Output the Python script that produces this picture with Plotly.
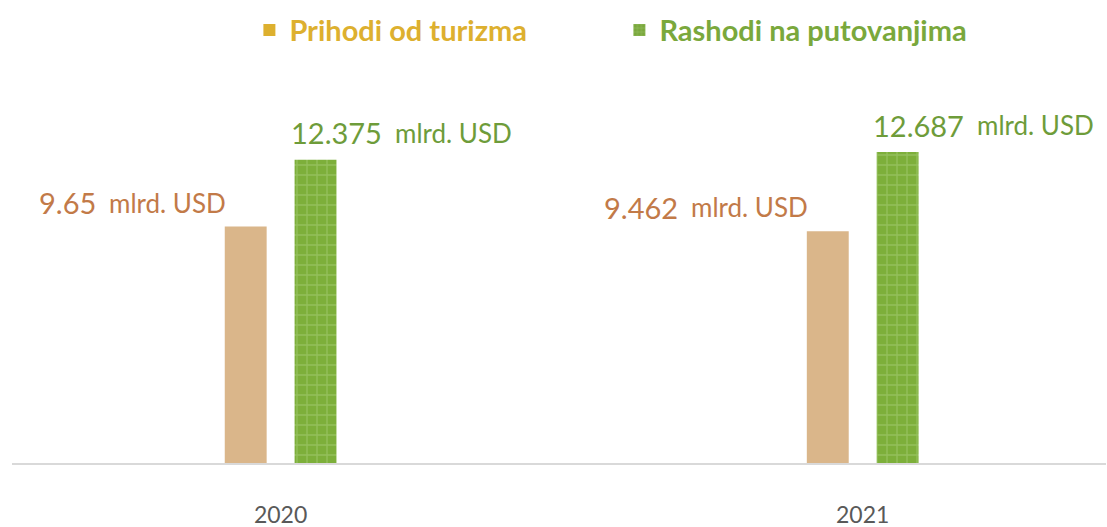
import plotly.graph_objects as go

years = ["2020", "2021"]
prihodi = [9.65, 9.462]
rashodi = [12.375, 12.687]
unit = "mlrd. USD"
name_prihodi = "Prihodi od turizma"
name_rashodi = "Rashodi na putovanjima"

C_PRI_BAR = "#DAB68A"
C_PRI_LEG = "#DDB02F"
C_PRI_TXT = "#C27A48"
C_RAS_BAR = "#7DAF3A"
C_RAS_PAT = "#A9CF7C"
C_RAS_TXT = "#6E9C3A"
C_RAS_LEG = "#7AA83C"
FONT = "Lato"
NUM_SIZE = 29
UNIT_SIZE = 26

fig = go.Figure()

# real bars
fig.add_trace(go.Bar(x=years, y=prihodi, marker=dict(color=C_PRI_BAR, line=dict(width=0)),
                     offsetgroup="a", showlegend=False, hoverinfo="skip"))
fig.add_trace(go.Bar(x=years, y=rashodi,
                     marker=dict(color=C_RAS_BAR, line=dict(width=0),
                                 pattern=dict(shape="+", fgcolor=C_RAS_PAT, size=10, solidity=0.25)),
                     offsetgroup="b", showlegend=False, hoverinfo="skip"))

# legend-only entries
fig.add_trace(go.Bar(x=[None], y=[None], marker=dict(color=C_PRI_LEG, line=dict(width=0)),
                     offsetgroup="a", name=f"<b>{name_prihodi}</b>"))
fig.add_trace(go.Bar(x=[None], y=[None],
                     marker=dict(color=C_RAS_LEG, line=dict(width=0),
                                 pattern=dict(shape="+", fgcolor=C_RAS_PAT, size=5, solidity=0.3)),
                     offsetgroup="b", name=f"<b>{name_rashodi}</b>"))

annotations = []
# Prihodi labels: right-aligned to the left edge of the bar
for i, v in enumerate(prihodi):
    annotations.append(dict(x=i, y=v, xref="x", yref="y", xanchor="right", yanchor="middle",
                            xshift=-54, yshift=24, showarrow=False, borderpad=0, text=unit,
                            font=dict(family=FONT, color=C_PRI_TXT, size=UNIT_SIZE)))
    annotations.append(dict(x=i, y=v, xref="x", yref="y", xanchor="right", yanchor="middle",
                            xshift=-54 - 130, yshift=24, showarrow=False, borderpad=0, text=f"{v:g}",
                            font=dict(family=FONT, color=C_PRI_TXT, size=NUM_SIZE)))
# Rashodi labels: left-aligned to the left edge of the bar
for i, v in enumerate(rashodi):
    annotations.append(dict(x=i, y=v, xref="x", yref="y", xanchor="left", yanchor="middle",
                            xshift=9, yshift=27, showarrow=False, borderpad=0, text=f"{v:g}",
                            font=dict(family=FONT, color=C_RAS_TXT, size=NUM_SIZE)))
    annotations.append(dict(x=i, y=v, xref="x", yref="y", xanchor="left", yanchor="middle",
                            xshift=9 + 104, yshift=27, showarrow=False, borderpad=0, text=unit,
                            font=dict(family=FONT, color=C_RAS_TXT, size=UNIT_SIZE)))

fig.update_layout(
    width=1107, height=527,
    margin=dict(l=12, r=1, t=80, b=64, autoexpand=False),
    paper_bgcolor="white", plot_bgcolor="white",
    barmode="group", bargap=0.76, bargroupgap=0.4,
    font=dict(family=FONT, color="#595959"),
    showlegend=True,
    legend=dict(orientation="h", x=0.217, xanchor="left", y=1.13, yanchor="middle",
                font=dict(family=FONT, size=29), entrywidth=325, entrywidthmode="pixels",
                bgcolor="rgba(0,0,0,0)"),
    annotations=annotations,
    xaxis=dict(type="category", range=[-0.4615, 1.418], showgrid=False, zeroline=False,
               showline=True, linecolor="#D9D9D9", linewidth=2,
               ticks="outside", ticklen=30, tickcolor="rgba(0,0,0,0)",
               tickfont=dict(family=FONT, size=23, color="#595959")),
    yaxis=dict(range=[0, 15.63], showgrid=False, zeroline=False, showline=False,
               showticklabels=False, ticks=""),
)

post = """
document.body.style.margin='0';
var gd = document.querySelectorAll('.plotly-graph-div')[0];
function colorLegend(){
  var t = gd.querySelectorAll('.legendtext');
  var cols = ['%s', '%s'];
  t.forEach(function(el, i){ if (i < cols.length) el.style.fill = cols[i]; });
}
colorLegend();
gd.on('plotly_afterplot', colorLegend);
""" % (C_PRI_LEG, C_RAS_LEG)

fig.write_html("out.html", post_script=post, config={"displayModeBar": False})
